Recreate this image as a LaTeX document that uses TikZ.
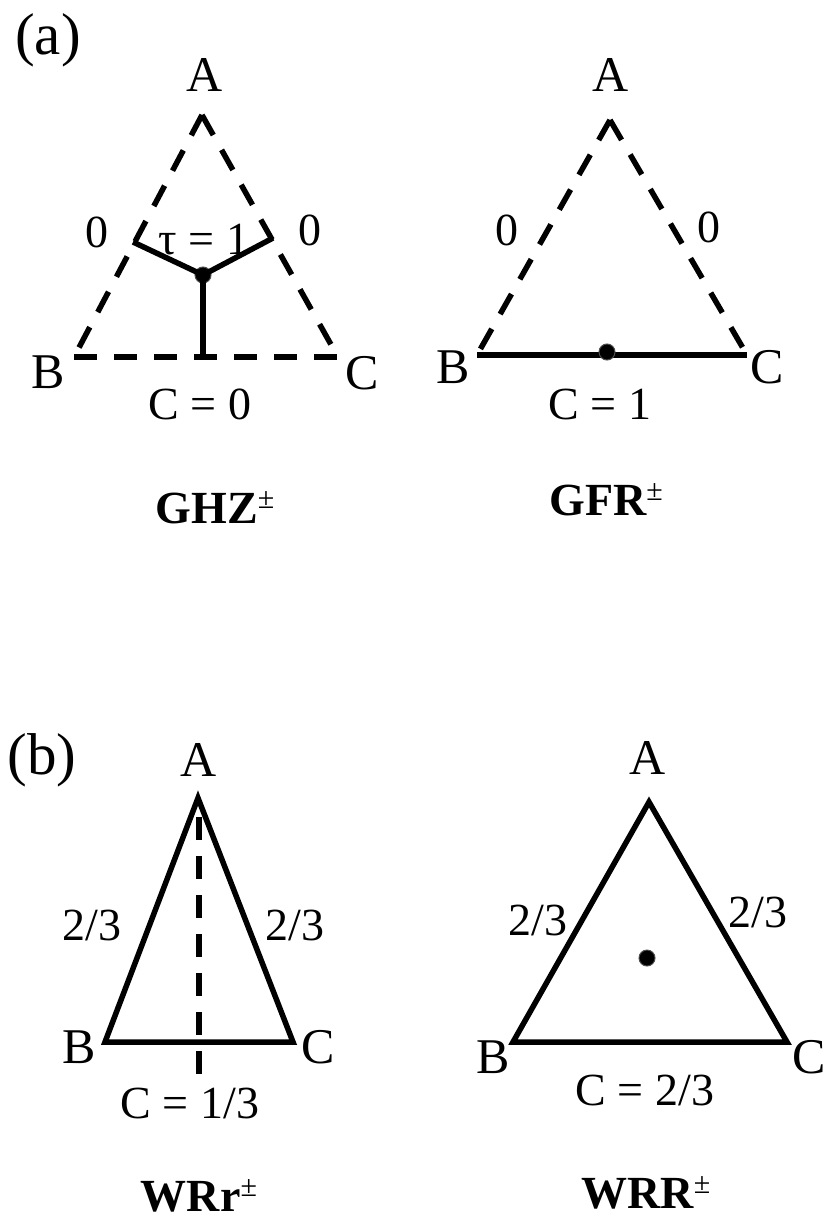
\documentclass[tikz,border=0pt]{standalone}
\usepackage{fontspec}
\setmainfont{Liberation Serif}
\newcommand{\pmsup}{\raisebox{15pt}{\mdseries\fontsize{30}{30}\selectfont ±}}
\begin{document}
\begin{tikzpicture}[x=1pt,y=-1pt,
  edge/.style={line width=5.5pt,line join=miter},
  dashedge/.style={line width=5.5pt,dash pattern=on 23pt off 17pt},
  lab/.style={font=\fontsize{46}{50}\selectfont,inner sep=0pt},
  vlab/.style={font=\fontsize{50}{55}\selectfont,inner sep=0pt},
  plab/.style={font=\fontsize{59}{62}\selectfont,inner sep=0pt},
  title/.style={font=\fontsize{46}{50}\selectfont\bfseries,inner sep=0pt,anchor=base},
  dotmark/.style={circle,fill=black,draw=black!70,line width=1pt,inner sep=0pt,minimum size=16pt}]
\useasboundingbox (0,0) rectangle (828,1220);
% (a) GHZ
\coordinate (gA) at (202,115);
\coordinate (gB) at (74,357);
\coordinate (gC) at (338,357);
\coordinate (gL) at (133,242);
\coordinate (gR) at (273,238);
\coordinate (gM) at (203,357);
\draw[dashedge] (gA) -- (gB);
\draw[dashedge] (gA) -- (gC);
\draw[dashedge] (gB) -- (gC);
\node[dotmark] (gO) at (203,275) {};
\draw[edge] (gO.center) -- (gL);
\draw[edge] (gO.center) -- (gR);
\draw[edge] (gO.center) -- (gM);
\node[plab] (pa) at (48,40) {(a)};
\node[vlab] (gAl) at (205,75) {A};
\node[vlab] (gBl) at (48,372) {B};
\node[vlab] (gCl) at (362,373) {C};
\node[lab] (g0l) at (97,232) {0};
\node[lab] (g0r) at (310,230) {0};
\node[lab] (gtau) at (204,240) {τ = 1};
\node[lab] (gCC) at (200,404) {C = 0};
\node[title] (ghz) at (215,523) {GHZ\pmsup};
% GFR
\coordinate (fA) at (610,120);
\coordinate (fB) at (477,355);
\coordinate (fC) at (747,355);
\draw[dashedge] (fA) -- (fB);
\draw[dashedge] (fA) -- (fC);
\draw[edge] (fB) -- (fC);
\node[dotmark] (fO) at (607,352) {};
\node[vlab] (fAl) at (611,75) {A};
\node[vlab] (fBl) at (453,367) {B};
\node[vlab] (fCl) at (767,367) {C};
\node[lab] (f0l) at (507,230) {0};
\node[lab] (f0r) at (709,227) {0};
\node[lab] (fCC) at (600,404) {C = 1};
\node[title] (gfr) at (606,515) {GFR\pmsup};
% (b) WRr
\coordinate (rA) at (198,798);
\coordinate (rB) at (105,1042);
\coordinate (rC) at (293,1042);
\coordinate (rT) at (199,817);
\coordinate (rD) at (199,1082);
\draw[edge] (rA) -- (rB) -- (rC) -- cycle;
\draw[line width=5.5pt,dash pattern=on 23pt off 16pt] (rT) -- (rD);
\node[plab] (pb) at (42,760) {(b)};
\node[vlab] (rAl) at (199,760) {A};
\node[vlab] (rBl) at (79,1047) {B};
\node[vlab] (rCl) at (318,1047) {C};
\node[lab] (r23l) at (92,925) {2/3};
\node[lab] (r23r) at (295,925) {2/3};
\node[lab] (rCC) at (190,1103) {C = 1/3};
\node[title] (wrr1) at (199,1211) {WRr\pmsup};
% WRR
\coordinate (sA) at (649,802);
\coordinate (sB) at (513,1042);
\coordinate (sC) at (787,1042);
\draw[edge] (sA) -- (sB) -- (sC) -- cycle;
\node[dotmark] (sO) at (647,958) {};
\node[vlab] (sAl) at (648,758) {A};
\node[vlab] (sBl) at (493,1057) {B};
\node[vlab] (sCl) at (809,1057) {C};
\node[lab] (s23l) at (538,920) {2/3};
\node[lab] (s23r) at (758,912) {2/3};
\node[lab] (sCC) at (645,1090) {C = 2/3};
\node[title] (wrr2) at (646,1208) {WRR\pmsup};
\end{tikzpicture}
\end{document}
